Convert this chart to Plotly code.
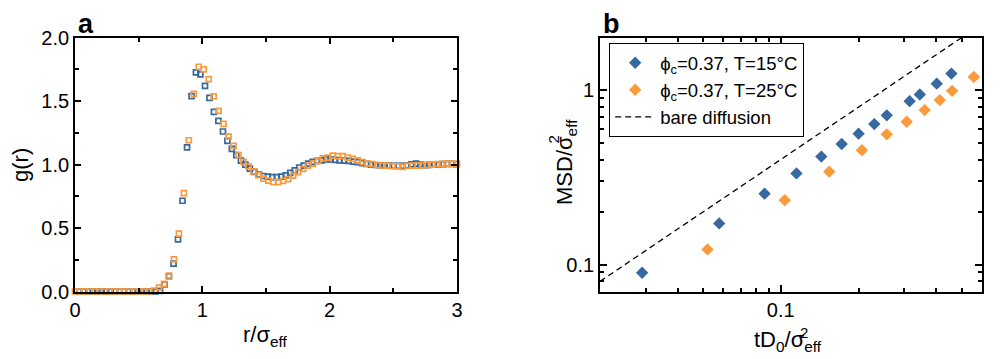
import plotly.graph_objects as go

# ---------------- data: panel a, g(r) ----------------
r_blue = [0.033, 0.069, 0.104, 0.139, 0.174, 0.210, 0.245, 0.280, 0.315, 0.351,
          0.386, 0.421, 0.456, 0.492, 0.527, 0.562, 0.597, 0.633, 0.668, 0.703,
          0.738, 0.774, 0.809, 0.844, 0.880, 0.915, 0.950, 0.985, 1.021, 1.056,
          1.091, 1.126, 1.162, 1.197, 1.232, 1.267, 1.303, 1.338, 1.373, 1.408,
          1.444, 1.479, 1.514, 1.549, 1.585, 1.620, 1.655, 1.690, 1.726, 1.761,
          1.796, 1.831, 1.867, 1.902, 1.937, 1.972, 2.008, 2.043, 2.078, 2.114,
          2.149, 2.184, 2.219, 2.255, 2.290, 2.325, 2.360, 2.396, 2.431, 2.466,
          2.501, 2.537, 2.572, 2.607, 2.642, 2.678, 2.713, 2.748, 2.783, 2.819,
          2.854, 2.889, 2.924, 2.960, 2.995]
g_blue = [0, 0, 0, 0, 0, 0, 0, 0, 0, 0, 0, 0, 0, 0, 0, 0, 0, 0,
          0.005, 0.055, 0.12, 0.22, 0.41, 0.715, 1.135, 1.54, 1.727, 1.711,
          1.62, 1.526, 1.416, 1.345, 1.261, 1.187, 1.124, 1.074, 1.032, 1.0,
          0.969, 0.942, 0.921, 0.91, 0.905, 0.902, 0.902, 0.905, 0.915, 0.935,
          0.955, 0.977, 0.992, 1.008, 1.021, 1.029, 1.034, 1.04, 1.04, 1.037,
          1.034, 1.032, 1.029, 1.024, 1.019, 1.012, 1.006, 1.0, 0.997, 0.995,
          0.993, 0.992, 0.991, 0.99, 0.99, 0.995, 1.002, 1.008, 1.0, 0.996,
          0.998, 1.0, 1.002, 1.004, 1.005, 1.005, 1.004]

r_orange = [0.000, 0.036, 0.075, 0.114, 0.153, 0.192, 0.231, 0.270, 0.309, 0.348,
            0.387, 0.426, 0.465, 0.504, 0.543, 0.582, 0.621, 0.660, 0.699, 0.738,
            0.777, 0.816, 0.855, 0.894, 0.933, 0.972, 1.011, 1.050, 1.089, 1.128,
            1.167, 1.206, 1.245, 1.284, 1.323, 1.362, 1.401, 1.440, 1.479, 1.518,
            1.557, 1.596, 1.635, 1.674, 1.713, 1.752, 1.791, 1.830, 1.869, 1.908,
            1.947, 1.986, 2.025, 2.064, 2.103, 2.142, 2.181, 2.220, 2.259, 2.298,
            2.337, 2.376, 2.415, 2.454, 2.493, 2.532, 2.571, 2.610, 2.649, 2.688,
            2.727, 2.766, 2.805, 2.844, 2.883, 2.922, 2.961, 3.000]
g_orange = [0, 0, 0, 0, 0, 0, 0, 0, 0, 0, 0, 0, 0, 0, 0, 0,
            0.008, 0.03, 0.06, 0.126, 0.253, 0.456, 0.776, 1.192, 1.558, 1.771,
            1.75, 1.674, 1.537, 1.424, 1.321, 1.221, 1.147, 1.074, 1.021, 0.987,
            0.947, 0.916, 0.89, 0.874, 0.863, 0.862, 0.872, 0.885, 0.913, 0.94,
            0.966, 0.992, 1.008, 1.029, 1.05, 1.055, 1.07, 1.066, 1.066, 1.055,
            1.045, 1.034, 1.019, 1.008, 1.003, 0.997, 0.992, 0.992, 0.987, 0.987,
            0.982, 0.99, 0.992, 0.992, 0.994, 0.997, 1.0, 1.003, 1.006, 1.008,
            1.008, 1.006]

# ---------------- data: panel b, MSD ----------------
t_blue = [0.0291, 0.0578, 0.0866, 0.115, 0.1435, 0.172, 0.200, 0.230, 0.257,
          0.315, 0.345, 0.401, 0.457]
msd_blue = [0.0897, 0.172, 0.255, 0.333, 0.416, 0.491, 0.563, 0.639, 0.717,
            0.865, 0.945, 1.09, 1.245]
t_orange = [0.0521, 0.1036, 0.154, 0.206, 0.257, 0.307, 0.360, 0.412, 0.460, 0.558]
msd_orange = [0.122, 0.234, 0.341, 0.452, 0.558, 0.659, 0.769, 0.877, 0.991, 1.19]
t_diff = [0.02, 0.6]
msd_diff = [0.08, 2.4]

label_blue = "ϕ<sub>c</sub>=0.37, T=15°C"
label_orange = "ϕ<sub>c</sub>=0.37, T=25°C"
label_diff = "bare diffusion"

# ---------------- styling ----------------
BLUE = "#36699f"
ORANGE = "#fb9a3c"
FONT = "Liberation Sans, Arial, Helvetica, sans-serif"
W, H = 1000, 359


def px(x):
    return x / W


def py(y):
    return 1 - y / H


fig = go.Figure()

fig.add_trace(go.Scatter(x=r_blue, y=g_blue, mode="markers", showlegend=False,
                         marker=dict(symbol="square-open", size=5, color=BLUE,
                                     line=dict(width=1.7, color=BLUE)),
                         cliponaxis=False, xaxis="x", yaxis="y"))
fig.add_trace(go.Scatter(x=r_orange, y=g_orange, mode="markers", showlegend=False,
                         marker=dict(symbol="square-open", size=5, color=ORANGE,
                                     line=dict(width=1.7, color=ORANGE)),
                         cliponaxis=False, xaxis="x", yaxis="y"))

fig.add_trace(go.Scatter(x=t_blue, y=msd_blue, mode="markers", name=label_blue,
                         marker=dict(symbol="diamond", size=9.5, color=BLUE),
                         xaxis="x2", yaxis="y2"))
fig.add_trace(go.Scatter(x=t_orange, y=msd_orange, mode="markers", name=label_orange,
                         marker=dict(symbol="diamond", size=9.5, color=ORANGE),
                         xaxis="x2", yaxis="y2"))
fig.add_trace(go.Scatter(x=t_diff, y=msd_diff, mode="lines", name=label_diff,
                         line=dict(color="black", width=1.3, dash="6px,4px"),
                         xaxis="x2", yaxis="y2"))

axis_common = dict(showline=True, linecolor="black", linewidth=1.8, mirror="allticks",
                   ticks="inside", ticklen=6, tickwidth=1.5, tickcolor="black",
                   showgrid=False, zeroline=False, automargin=False,
                   tickfont=dict(family=FONT, size=20, color="black"))

ydom = [py(291.5), py(37.7)]

fig.update_layout(
    width=W, height=H,
    margin=dict(l=0, r=0, t=0, b=0),
    paper_bgcolor="white", plot_bgcolor="white",
    font=dict(family=FONT, color="black"),
    xaxis=dict(domain=[px(75), px(457)], range=[0, 3], tickvals=[0, 1, 2, 3],
               minor=dict(ticks="inside", ticklen=4, tickvals=[0.5, 1.5, 2.5],
                          tickcolor="black", tickwidth=1.5),
               anchor="y", **axis_common),
    yaxis=dict(domain=ydom, range=[0, 2], tickvals=[0, 0.5, 1.0, 1.5, 2.0],
               tickformat=".1f",
               minor=dict(ticks="inside", ticklen=4, tickvals=[0.25, 0.75, 1.25, 1.75],
                          tickcolor="black", tickwidth=1.5),
               anchor="x", **axis_common),
    xaxis2=dict(domain=[px(600), px(982)], type="log",
                range=[-1.69897, -0.22185], tickvals=[0.1], ticktext=["0.1"],
                minor=dict(ticks="inside", ticklen=4,
                           tickvals=[0.03, 0.04, 0.05, 0.06, 0.07, 0.08, 0.09,
                                     0.2, 0.3, 0.4, 0.5],
                           tickcolor="black", tickwidth=1.5),
                anchor="y2", **dict(axis_common, ticklen=7)),
    yaxis2=dict(domain=ydom, type="log",
                range=[-1.15490, 0.30103], tickvals=[0.1, 1], ticktext=["0.1", "1"],
                minor=dict(ticks="inside", ticklen=4,
                           tickvals=[0.08, 0.09, 0.2, 0.3, 0.4, 0.5, 0.6, 0.7, 0.8, 0.9],
                           tickcolor="black", tickwidth=1.5),
                anchor="x2", **dict(axis_common, ticklen=7)),
    legend=dict(x=px(609), y=py(43), xanchor="left", yanchor="top",
                bordercolor="black", borderwidth=1.2, bgcolor="white",
                font=dict(family=FONT, size=18.5, color="black"),
                itemwidth=40, tracegroupgap=0),
)

ann = []
# panel labels
ann.append(dict(text="<b>a</b>", x=px(76), y=py(23.5), xanchor="left", yanchor="middle",
                font=dict(size=27)))
ann.append(dict(text="<b>b</b>", x=px(601), y=py(23.5), xanchor="left", yanchor="middle",
                font=dict(size=27)))
# axis titles
ann.append(dict(text="g(r)", x=px(21), y=py(165), textangle=-90,
                xanchor="center", yanchor="middle", font=dict(size=22)))
ann.append(dict(text="r/σ<sub>eff</sub>", x=px(241), y=py(336), xanchor="left",
                yanchor="middle", font=dict(size=22)))
ann.append(dict(text="tD<sub>0</sub>/σ<sub>eff</sub>", x=px(752), y=py(341),
                xanchor="left", yanchor="middle", font=dict(size=22)))
ann.append(dict(text="2", x=px(804), y=py(332), xanchor="center", yanchor="middle",
                font=dict(size=15)))
ann.append(dict(text="MSD/σ<sub>eff</sub>", x=px(566), y=py(162), textangle=-90,
                xanchor="center", yanchor="middle", font=dict(size=22)))
ann.append(dict(text="2", x=px(552.5), y=py(140), textangle=-90,
                xanchor="center", yanchor="middle", font=dict(size=15)))
for a in ann:
    a.update(xref="paper", yref="paper", showarrow=False)
    a["font"].update(family=FONT, color="black")
fig.update_layout(annotations=ann)

fig.write_html("out.html")
